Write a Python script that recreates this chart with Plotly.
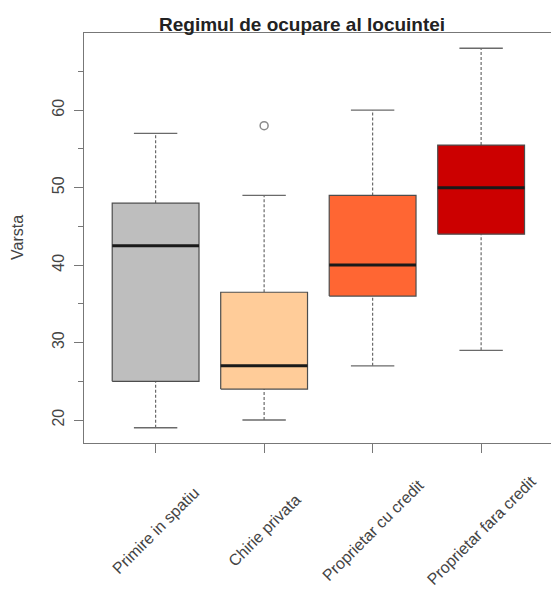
import plotly.graph_objects as go

# Age distribution by housing tenure
categories = ["Primire in spatiu", "Chirie privata", "Proprietar cu credit", "Proprietar fara credit"]
whisker_low = [19, 20, 27, 29]
q1 = [25, 24, 36, 44]
median = [42.5, 27, 40, 50]
q3 = [48, 36.5, 49, 55.5]
whisker_high = [57, 49, 60, 68]
outlier_cat = ["Chirie privata"]
outlier_val = [58]
colors = ["#BEBEBE", "#FFCC99", "#FF6633", "#CC0000"]

pos = {c: i + 1 for i, c in enumerate(categories)}
half_box = 0.4
half_cap = 0.2
edge = "#4d4d4d"

fig = go.Figure()

for c, lo, a, m, b, hi, col in zip(categories, whisker_low, q1, median, q3, whisker_high, colors):
    x0 = pos[c]
    # whiskers (dashed)
    fig.add_trace(go.Scatter(x=[x0, x0, None, x0, x0], y=[lo, a, None, b, hi], mode="lines",
                             line=dict(color="#6a6a6a", width=1.2, dash="3px,2px"),
                             hoverinfo="skip", showlegend=False))
    # caps
    fig.add_trace(go.Scatter(x=[x0 - half_cap, x0 + half_cap, None, x0 - half_cap, x0 + half_cap],
                             y=[lo, lo, None, hi, hi], mode="lines",
                             line=dict(color="#6a6a6a", width=1.4),
                             hoverinfo="skip", showlegend=False))
    # box
    fig.add_trace(go.Scatter(x=[x0 - half_box, x0 + half_box, x0 + half_box, x0 - half_box, x0 - half_box],
                             y=[a, a, b, b, a], mode="lines", fill="toself", fillcolor=col,
                             line=dict(color=edge, width=1.2),
                             hoverinfo="skip", showlegend=False))
    # median
    fig.add_trace(go.Scatter(x=[x0 - half_box, x0 + half_box], y=[m, m], mode="lines",
                             line=dict(color="#1a1a1a", width=3),
                             hoverinfo="skip", showlegend=False))

fig.add_trace(go.Scatter(x=[pos[c] for c in outlier_cat], y=outlier_val, mode="markers",
                         marker=dict(symbol="circle-open", size=8, color="#8a8a8a", line=dict(width=1.5)),
                         hoverinfo="skip", showlegend=False))

font_family = "Liberation Sans, Arial, sans-serif"

fig.update_layout(
    width=551, height=590,
    margin=dict(l=84, r=0, t=33, b=147),
    plot_bgcolor="white", paper_bgcolor="white",
    font=dict(family=font_family, size=16, color="#333333"),
    xaxis=dict(range=[0.34, 4.644], tickmode="array", tickvals=list(pos.values()),
               showticklabels=False, ticks="outside", ticklen=9, tickcolor="#777777",
               showline=True, linecolor="#777777", linewidth=1.2, mirror=True,
               showgrid=False, zeroline=False),
    yaxis=dict(range=[17.04, 69.96], tick0=0, dtick=10, tickangle=-90,
               ticks="outside", ticklen=9, tickcolor="#777777", ticklabelstandoff=4,
               minor=dict(dtick=5, ticks="outside", ticklen=5, tickcolor="#777777"),
               showline=True, linecolor="#777777", linewidth=1.2, mirror=False,
               showgrid=False, zeroline=False,
               tickfont=dict(size=16, color="#444444")),
)

annotations = []
for c in categories:
    annotations.append(dict(x=pos[c], y=-0.2122, xref="x", yref="paper", text=c,
                            showarrow=False, textangle=-45, xanchor="center", yanchor="middle",
                            font=dict(size=16, color="#444444")))
annotations.append(dict(x=0, y=0.5, xref="paper", yref="paper", text="Varsta", xshift=-67,
                        showarrow=False, textangle=-90, xanchor="center", yanchor="middle",
                        font=dict(size=16, color="#444444")))
annotations.append(dict(x=(302 - 84) / 467, y=1, xref="paper", yref="paper",
                        text="<b>Regimul de ocupare al locuintei</b>", yshift=9,
                        showarrow=False, xanchor="center", yanchor="middle",
                        font=dict(size=19, color="#222222")))
fig.update_layout(annotations=annotations)

fig.write_html("out.html")
